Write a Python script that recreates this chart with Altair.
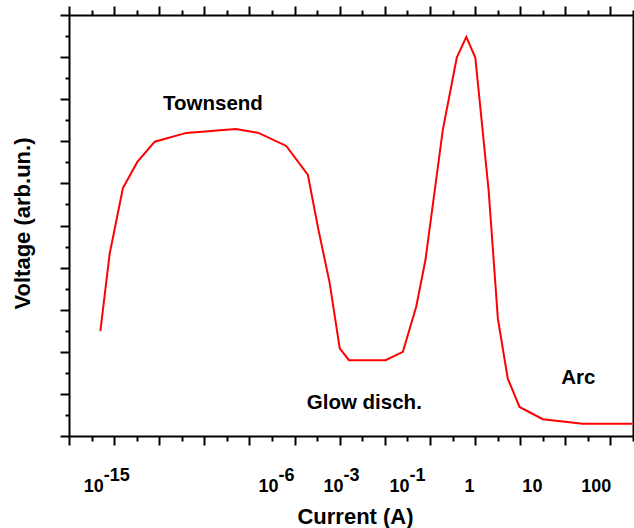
import altair as alt
import pandas as pd

# Curve (x in axis-grid units, y in arbitrary voltage units)
cur_x = [1.39, 1.80, 2.39, 3.03, 3.80, 5.20, 7.39, 8.40, 9.63, 10.59, 11.06, 11.55,
         12.00, 12.41, 14.03, 14.80, 15.39, 15.80, 16.57, 17.19, 17.61, 18.01,
         18.60, 19.01, 19.45, 19.97, 21.00, 22.77, 24.98]
volt = [2.49, 4.32, 5.89, 6.51, 6.99, 7.20, 7.29, 7.20, 6.89, 6.20, 4.89, 3.65,
        2.08, 1.80, 1.80, 2.00, 3.07, 4.18, 7.27, 8.99, 9.48, 8.99,
        5.84, 2.79, 1.36, 0.69, 0.40, 0.29, 0.29]

# Tick labels of the current axis
pow_pos = [1.54, 9.29, 12.17, 15.09]
pow_base = ["10", "10", "10", "10"]
pow_exp = ["-15", "-6", "-3", "-1"]
plain_pos = [17.75, 20.54, 23.37]
plain_lab = ["1", "10", "100"]

# Region annotations
ann_x = [6.38, 13.09, 22.58]
ann_y = [7.74, 0.65, 1.245]
ann_text = ["Townsend", "Glow disch.", "Arc"]

FONT = "Liberation Sans"

curve = pd.DataFrame({"x": cur_x, "y": volt, "i": list(range(len(cur_x)))})
powdf = pd.DataFrame({"x": pow_pos, "base": pow_base, "exp": pow_exp})
plaindf = pd.DataFrame({"x": plain_pos, "lab": plain_lab})
anndf = pd.DataFrame({"x": ann_x, "y": ann_y, "t": ann_text})

xscale = alt.Scale(domain=[0, 25], nice=False, zero=False)
yscale = alt.Scale(domain=[0, 10], nice=False, zero=False)

xt_vals = list(range(0, 26))
yt_vals = [i * 0.5 for i in range(0, 21)]

x_major = {"condition": {"test": "datum.value % 2 === 0", "value": 9}, "value": 5}
y_major = {"condition": {"test": "datum.value % 1 === 0", "value": 9}, "value": 4}

common_axis = dict(labels=False, grid=False, domainColor="black", domainWidth=2,
                   tickColor="black", tickWidth=2, titleFont=FONT,
                   titleFontWeight="bold", titleFontSize=22, titleColor="black")

line = alt.Chart(curve).mark_line(color="#ff0000", strokeWidth=2).encode(
    x=alt.X("x:Q", scale=xscale,
            axis=alt.Axis(orient="bottom", values=xt_vals, tickSize=x_major,
                          title="Current (A)", titleX=286, titleY=87,
                          titleBaseline="alphabetic", titleAlign="center",
                          **common_axis)),
    y=alt.Y("y:Q", scale=yscale,
            axis=alt.Axis(orient="left", values=yt_vals, tickSize=y_major,
                          title="Voltage (arb.un.)", titleX=-40, titleY=208,
                          titleAngle=270, titleBaseline="alphabetic",
                          titleAlign="center", **common_axis)),
    order="i:Q",
)

frame = alt.Chart(curve).mark_line(strokeOpacity=0).encode(
    x=alt.X("x:Q", scale=xscale,
            axis=alt.Axis(orient="top", values=xt_vals, tickSize=x_major,
                          title=None, labels=False, grid=False,
                          domainColor="black", domainWidth=2,
                          tickColor="black", tickWidth=2)),
    y=alt.Y("y:Q", scale=yscale,
            axis=alt.Axis(orient="right", values=yt_vals, tickSize=y_major,
                          title=None, labels=False, grid=False,
                          domainColor="black", domainWidth=2,
                          tickColor="black", tickWidth=2)),
    order="i:Q",
)

tick_style = dict(font=FONT, fontWeight="bold", fontSize=18, color="black",
                  baseline="alphabetic")

base_txt = alt.Chart(powdf).mark_text(align="right", **tick_style).encode(
    x=alt.X("x:Q", scale=xscale, axis=None), y=alt.value(476.5), text="base:N")
exp_txt = alt.Chart(powdf).mark_text(align="left", **tick_style).encode(
    x=alt.X("x:Q", scale=xscale, axis=None), y=alt.value(465.5), text="exp:N")
plain_txt = alt.Chart(plaindf).mark_text(align="center", **tick_style).encode(
    x=alt.X("x:Q", scale=xscale, axis=None), y=alt.value(476.5), text="lab:N")

ann = alt.Chart(anndf).mark_text(font=FONT, fontWeight="bold", fontSize=20.5,
                                 color="black", align="center",
                                 baseline="alphabetic").encode(
    x=alt.X("x:Q", scale=xscale, axis=None),
    y=alt.Y("y:Q", scale=yscale, axis=None), text="t:N")

chart = alt.layer(line, frame, base_txt, exp_txt, plain_txt, ann).resolve_axis(
    x="independent", y="independent"
).properties(
    width=564, height=421,
    autosize=alt.AutoSizeParams(type="none"),
    padding={"left": 69, "top": 15, "right": 1, "bottom": 92},
).configure_view(stroke=None).configure(background="white")

chart.save("out.html", embed_options={"renderer": "svg", "actions": False})
